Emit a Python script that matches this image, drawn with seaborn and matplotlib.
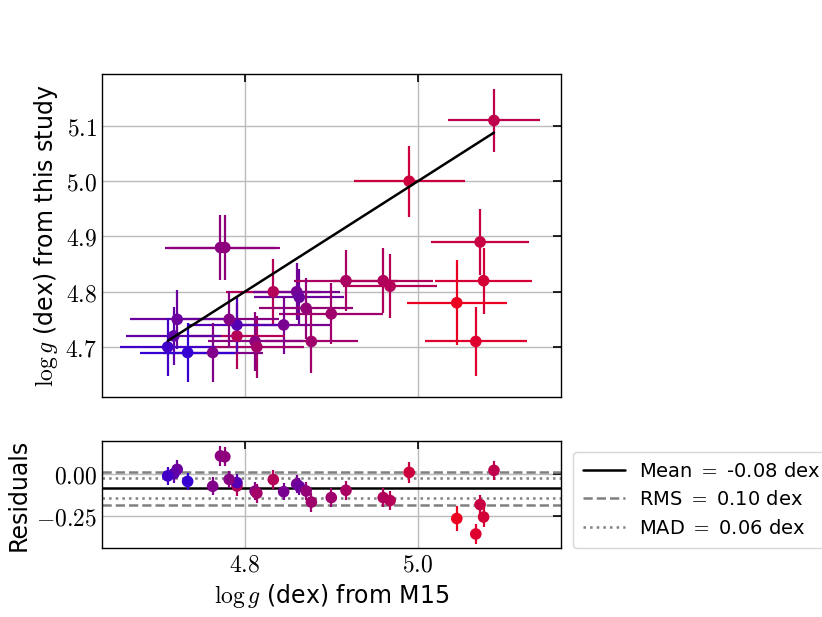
import matplotlib
matplotlib.use("Agg")
import matplotlib.pyplot as plt
from matplotlib.colors import LinearSegmentedColormap
from matplotlib.ticker import MultipleLocator, FuncFormatter
import numpy as np
import pandas as pd
import seaborn as sns

# log g values
logg_m15 = [5.088, 4.990, 5.072, 5.076, 5.045, 5.067, 4.772, 4.777, 4.833, 4.860,
            4.863, 4.917, 4.960, 4.968, 4.871, 4.900, 4.845, 4.877, 4.812, 4.814,
            4.791, 4.791, 4.782, 4.763, 4.722, 4.718, 4.711, 4.734]
logg_this = [5.110, 5.000, 4.890, 4.820, 4.780, 4.710, 4.880, 4.880, 4.800, 4.800,
             4.790, 4.820, 4.820, 4.810, 4.770, 4.760, 4.740, 4.710, 4.710, 4.700,
             4.720, 4.740, 4.750, 4.690, 4.750, 4.720, 4.700, 4.690]
err_m15 = [0.053, 0.064, 0.057, 0.056, 0.058, 0.059, 0.064, 0.064, 0.055, 0.050,
           0.052, 0.060, 0.058, 0.054, 0.054, 0.060, 0.054, 0.054, 0.055, 0.055,
           0.055, 0.055, 0.058, 0.058, 0.054, 0.055, 0.055, 0.055]
err_this = [0.057, 0.064, 0.060, 0.060, 0.077, 0.062, 0.058, 0.058, 0.059, 0.052,
            0.052, 0.055, 0.059, 0.058, 0.055, 0.055, 0.052, 0.057, 0.054, 0.056,
            0.060, 0.050, 0.052, 0.054, 0.053, 0.053, 0.053, 0.053]
# colour value of each star (0 = blue, 1 = red)
color_val = [0.75, 0.82, 0.80, 0.85, 0.97, 0.90, 0.50, 0.52, 0.70, 0.40,
             0.35, 0.65, 0.68, 0.70, 0.55, 0.60, 0.42, 0.60, 0.50, 0.62,
             0.70, 0.25, 0.48, 0.45, 0.35, 0.30, 0.15, 0.10]

res_mean = -0.085
res_rms = 0.097
res_mad = 0.06

df = pd.DataFrame({"m15": logg_m15, "this": logg_this,
                   "ex": err_m15, "ey": err_this, "c": color_val})
df["res"] = df["this"] - df["m15"]

sns.set_style("white")
plt.rcParams["font.family"] = ["DejaVu Sans"]
plt.rcParams["mathtext.fontset"] = "cm"
for k in ("text.color", "axes.labelcolor", "xtick.color", "ytick.color"):
    plt.rcParams[k] = "black"

cmap = LinearSegmentedColormap.from_list("br", ["#2200e6", "#f2001a"])
cols = [cmap(v) for v in df["c"]]

fig = plt.figure(figsize=(8.22, 6.17), dpi=100)
ax1 = fig.add_axes([0.124, 0.357, 0.558, 0.523])
ax2 = fig.add_axes([0.124, 0.112, 0.558, 0.173], sharex=ax1)

for i, row in df.iterrows():
    ax1.errorbar(row["m15"], row["this"], xerr=row["ex"], yerr=row["ey"],
                 fmt="none", ecolor=cols[i], elinewidth=1.6, zorder=2)
    ax2.errorbar(row["m15"], row["res"], yerr=row["ey"],
                 fmt="none", ecolor=cols[i], elinewidth=1.6, zorder=2)

sns.scatterplot(data=df, x="m15", y="this", hue="c", palette=cmap, hue_norm=(0, 1),
                s=70, edgecolor="none", legend=False, ax=ax1, zorder=3)
sns.scatterplot(data=df, x="m15", y="res", hue="c", palette=cmap, hue_norm=(0, 1),
                s=70, edgecolor="none", legend=False, ax=ax2, zorder=3)

lo, hi = df["m15"].min(), df["m15"].max()
ax1.plot([lo, hi], [lo, hi], color="black", lw=1.8, zorder=4)

l1 = ax2.axhline(res_mean, color="black", lw=1.8, zorder=1)
l2 = ax2.axhline(res_mean + res_rms, color="gray", lw=1.8, ls="--", zorder=1)
ax2.axhline(res_mean - res_rms, color="gray", lw=1.8, ls="--", zorder=1)
l3 = ax2.axhline(res_mean + res_mad, color="gray", lw=1.8, ls=":", zorder=1)
ax2.axhline(res_mean - res_mad, color="gray", lw=1.8, ls=":", zorder=1)

ax1.set_xlim(4.635, 5.165)
ax1.set_ylim(4.61, 5.194)
ax2.set_ylim(-0.44, 0.196)

ax1.xaxis.set_major_locator(MultipleLocator(0.2))
ax1.yaxis.set_major_locator(MultipleLocator(0.1))
ax2.yaxis.set_major_locator(MultipleLocator(0.25))

mfmt1 = FuncFormatter(lambda v, p: f"${v:.1f}$")
ax1.yaxis.set_major_formatter(mfmt1)
ax2.xaxis.set_major_formatter(mfmt1)
ax2.yaxis.set_major_formatter(FuncFormatter(lambda v, p: f"${v:.2f}$"))

for ax in (ax1, ax2):
    ax.grid(True, color="#bbbbbb", lw=1.0, zorder=0)
    ax.set_axisbelow(True)
    ax.tick_params(direction="in", top=True, right=True, length=6, width=1.2,
                   labelsize=17, colors="black")
    for sp in ax.spines.values():
        sp.set_color("black")
        sp.set_linewidth(1.0)
plt.setp(ax1.get_xticklabels(), visible=False)

ax1.set_xlabel("")
ax1.set_ylabel(r"$\log g$ (dex) from this study", fontsize=17)
ax2.set_xlabel(r"$\log g$ (dex) from M15", fontsize=17)
ax2.set_ylabel("Residuals", fontsize=17)

fig.legend([l1, l2, l3],
           [r"Mean $=$ -0.08 dex", r"RMS $=$ 0.10 dex", r"MAD $=$ 0.06 dex"],
           loc="center left", bbox_to_anchor=(0.697, 0.19), borderaxespad=0,
           fontsize=14, frameon=True, fancybox=True, edgecolor="#cccccc",
           handlelength=2.2, handletextpad=0.7, borderpad=0.5)

fig.savefig("out.png", dpi=100)
